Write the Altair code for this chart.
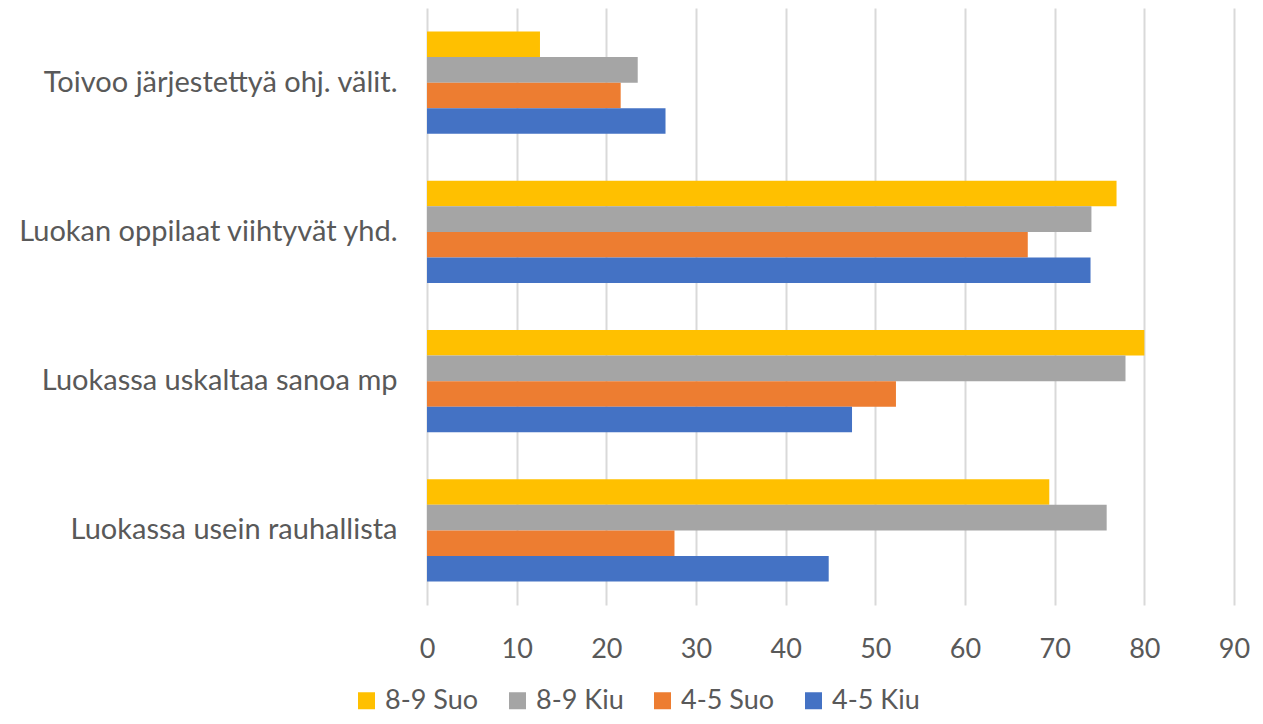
import altair as alt
import pandas as pd

categories = [
    "Toivoo järjestettyä ohj. välit.",
    "Luokan oppilaat viihtyvät yhd.",
    "Luokassa uskaltaa sanoa mp",
    "Luokassa usein rauhallista",
]
series = ["8-9 Suo", "8-9 Kiu", "4-5 Suo", "4-5 Kiu"]
colors = ["#FFC000", "#A5A5A5", "#ED7D31", "#4472C4"]

s89_suo = [12.6, 76.9, 80.0, 69.4]
s89_kiu = [23.5, 74.1, 77.9, 75.8]
s45_suo = [21.6, 67.0, 52.3, 27.6]
s45_kiu = [26.6, 74.0, 47.4, 44.8]

x_ticks = [0, 10, 20, 30, 40, 50, 60, 70, 80, 90]

values = [s89_suo, s89_kiu, s45_suo, s45_kiu]
rows = []
for s, vals in zip(series, values):
    for c, v in zip(categories, vals):
        rows.append({"Kategoria": c, "Sarja": s, "Arvo": v})
df = pd.DataFrame(rows)

FONT = "Lato"
TXT = "#595959"

chart = alt.Chart(df).mark_bar().encode(
    y=alt.Y(
        "Kategoria:N",
        sort=categories,
        scale=alt.Scale(paddingInner=0.315, paddingOuter=0.1575),
        axis=alt.Axis(
            title=None, domain=False, ticks=False, labelPadding=30,
            labelFontSize=29, labelColor=TXT, labelFont=FONT, labelLimit=500,
        ),
    ),
    yOffset=alt.YOffset("Sarja:N", sort=series, scale=alt.Scale(paddingInner=0, paddingOuter=0)),
    x=alt.X(
        "Arvo:Q",
        scale=alt.Scale(domain=[0, 90], nice=False),
        axis=alt.Axis(
            title=None, values=x_ticks, domain=False, ticks=False, grid=True,
            gridColor="#D9D9D9", gridWidth=2, labelPadding=31, labelFlush=False,
            labelFontSize=27, labelColor=TXT, labelFont=FONT,
        ),
    ),
    color=alt.Color(
        "Sarja:N",
        sort=series,
        scale=alt.Scale(domain=series, range=colors),
        legend=alt.Legend(
            title=None, orient="none", direction="horizontal",
            legendX=-74, legendY=679,
            symbolType="square", symbolSize=289, symbolStrokeWidth=0,
            labelFontSize=27, labelColor=TXT, labelFont=FONT,
            labelOffset=5, columnPadding=25,
        ),
    ),
).properties(
    width=807,
    height=597,
    autosize=alt.AutoSizeParams(type="none"),
    padding={"left": 419, "top": 0, "right": 21, "bottom": 110},
).configure_view(stroke=None)

chart.save("out.html", embed_options={"renderer": "svg", "actions": False})
